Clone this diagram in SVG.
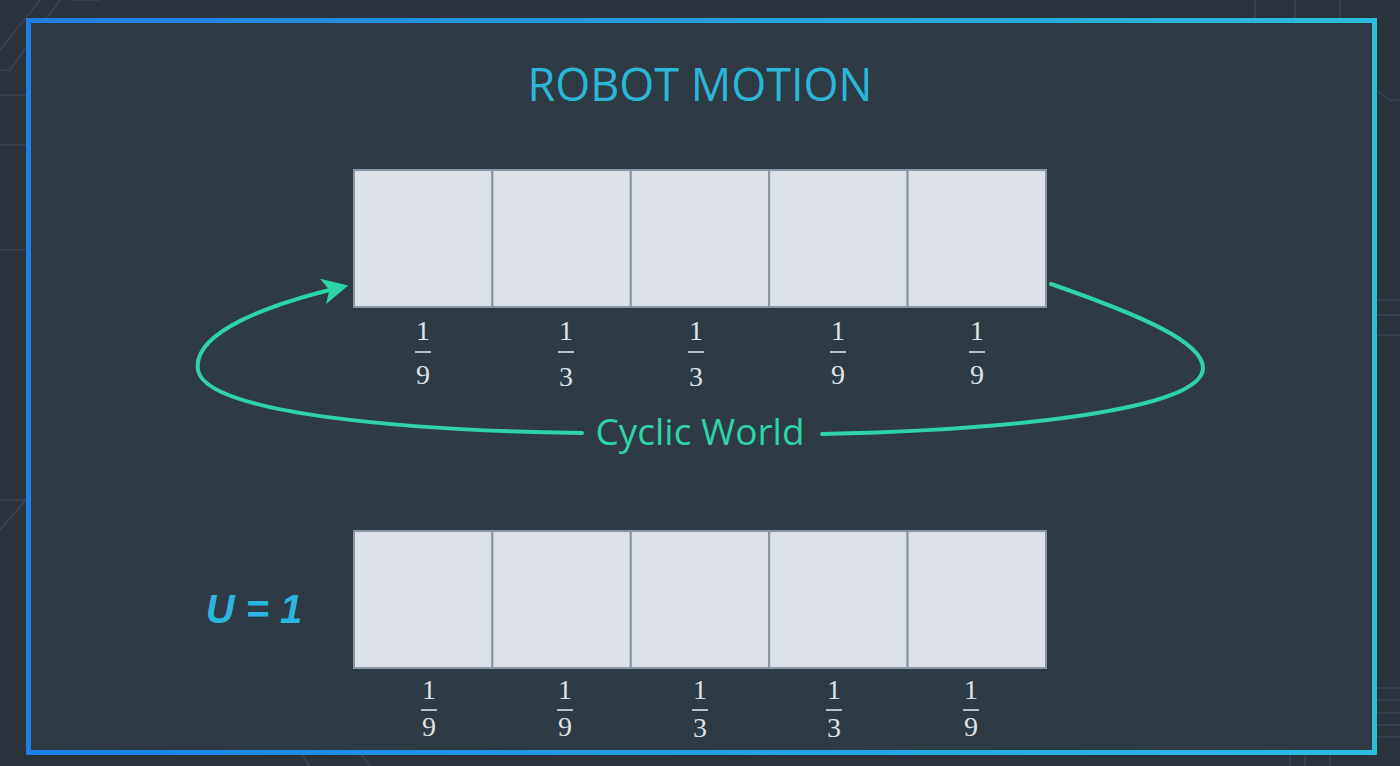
<svg xmlns="http://www.w3.org/2000/svg" width="1400" height="766" viewBox="0 0 1400 766">
<defs>
<linearGradient id="frameGrad" x1="0" y1="0" x2="1" y2="0">
<stop offset="0" stop-color="#1e7fe2"/>
<stop offset="1" stop-color="#2bbde0"/>
</linearGradient>
<marker id="arrow" viewBox="0 0 12 12" refX="9" refY="6" markerWidth="6.5" markerHeight="6.5" orient="auto" markerUnits="strokeWidth">
<path d="M0,0 L12,6 L0,12 L3,6 Z" fill="#2ed3a6"/>
</marker>
<style>
.cell{fill:#dde2e8;stroke:#8895a2;stroke-width:2}
.num{font-family:"Liberation Serif","DejaVu Serif",serif;font-size:28px;fill:#dfe3e8;text-anchor:middle}
.bar{stroke:#dfe3e8;stroke-width:1.6}
.bg{stroke:#3a454f;stroke-width:1.5;fill:none}
.loop{fill:none;stroke:#2ed3a6;stroke-width:4;stroke-linecap:round}
</style>
</defs>
<rect x="0" y="0" width="1400" height="766" fill="#2a333c"/>
<g id="background-lines">
<path class="bg" d="M0,95 L30,95 M0,70 L10,70 L60,0 M0,50 L40,0 M70,0 L100,0 M0,145 L26,145 M0,250 L26,250 M0,500 L26,500 L0,530 M1376,90 L1390,100 L1400,100 M1376,300 L1400,300 M1376,315 L1400,315 M1376,335 L1400,335 M1376,688 L1400,688 M1376,700 L1400,700 M1376,713 L1400,713 M1376,725 L1400,725 M1376,737 L1400,737 M1295,0 L1295,18 M1340,0 L1340,18 M1255,0 L1255,18 M1290,753 L1290,766 M1305,753 L1305,766 M1330,753 L1330,766 M300,753 L310,766 M360,753 L370,766"/>
</g>
<rect x="28.5" y="20.5" width="1346" height="732" fill="#2e3a44" stroke="url(#frameGrad)" stroke-width="5"/>
<g id="title">
<text x="700" y="101" font-family="'Open Sans','Noto Sans',sans-serif" font-size="45" fill="#2bb5d6" text-anchor="middle">ROBOT MOTION</text>
</g>
<g id="top-row">
<rect class="cell" x="354" y="170" width="138.4" height="137"/>
<rect class="cell" x="492.4" y="170" width="138.4" height="137"/>
<rect class="cell" x="630.8" y="170" width="138.4" height="137"/>
<rect class="cell" x="769.2" y="170" width="138.4" height="137"/>
<rect class="cell" x="907.6" y="170" width="138.4" height="137"/>
</g>
<g id="top-fractions">
<text class="num" x="423" y="340">1</text><line class="bar" x1="415" y1="352" x2="431" y2="352"/><text class="num" x="423" y="384">9</text>
<text class="num" x="566" y="340">1</text><line class="bar" x1="558" y1="352" x2="574" y2="352"/><text class="num" x="566" y="386">3</text>
<text class="num" x="696" y="340">1</text><line class="bar" x1="688" y1="352" x2="704" y2="352"/><text class="num" x="696" y="386">3</text>
<text class="num" x="838" y="340">1</text><line class="bar" x1="830" y1="352" x2="846" y2="352"/><text class="num" x="838" y="384">9</text>
<text class="num" x="977" y="340">1</text><line class="bar" x1="969" y1="352" x2="985" y2="352"/><text class="num" x="977" y="384">9</text>
</g>
<g id="connectors">
<path class="loop" d="M582,433 C420,431 205,415 198,370 C192,332 270,304 342,287" marker-end="url(#arrow)"/>
<path class="loop" d="M1051,284 C1140,315 1203,342 1203,368 C1203,410 1010,430 822,434"/>
</g>
<g id="cyclic-label">
<text x="700" y="445" font-family="'Open Sans','Noto Sans',sans-serif" font-size="37" fill="#2ed3a6" text-anchor="middle">Cyclic World</text>
</g>
<g id="bottom-row">
<rect class="cell" x="354" y="531" width="138.4" height="137"/>
<rect class="cell" x="492.4" y="531" width="138.4" height="137"/>
<rect class="cell" x="630.8" y="531" width="138.4" height="137"/>
<rect class="cell" x="769.2" y="531" width="138.4" height="137"/>
<rect class="cell" x="907.6" y="531" width="138.4" height="137"/>
</g>
<g id="bottom-fractions">
<text class="num" x="429" y="699">1</text><line class="bar" x1="421" y1="710" x2="437" y2="710"/><text class="num" x="429" y="736">9</text>
<text class="num" x="565" y="699">1</text><line class="bar" x1="557" y1="710" x2="573" y2="710"/><text class="num" x="565" y="736">9</text>
<text class="num" x="700" y="699">1</text><line class="bar" x1="692" y1="710" x2="708" y2="710"/><text class="num" x="700" y="737">3</text>
<text class="num" x="834" y="699">1</text><line class="bar" x1="826" y1="710" x2="842" y2="710"/><text class="num" x="834" y="737">3</text>
<text class="num" x="971" y="699">1</text><line class="bar" x1="963" y1="710" x2="979" y2="710"/><text class="num" x="971" y="736">9</text>
</g>
<g id="u-label">
<text x="254" y="623" font-family="'Liberation Sans',Arial,sans-serif" font-size="40" font-weight="bold" font-style="italic" fill="#29b7df" text-anchor="middle">U = 1</text>
</g>
</svg>
